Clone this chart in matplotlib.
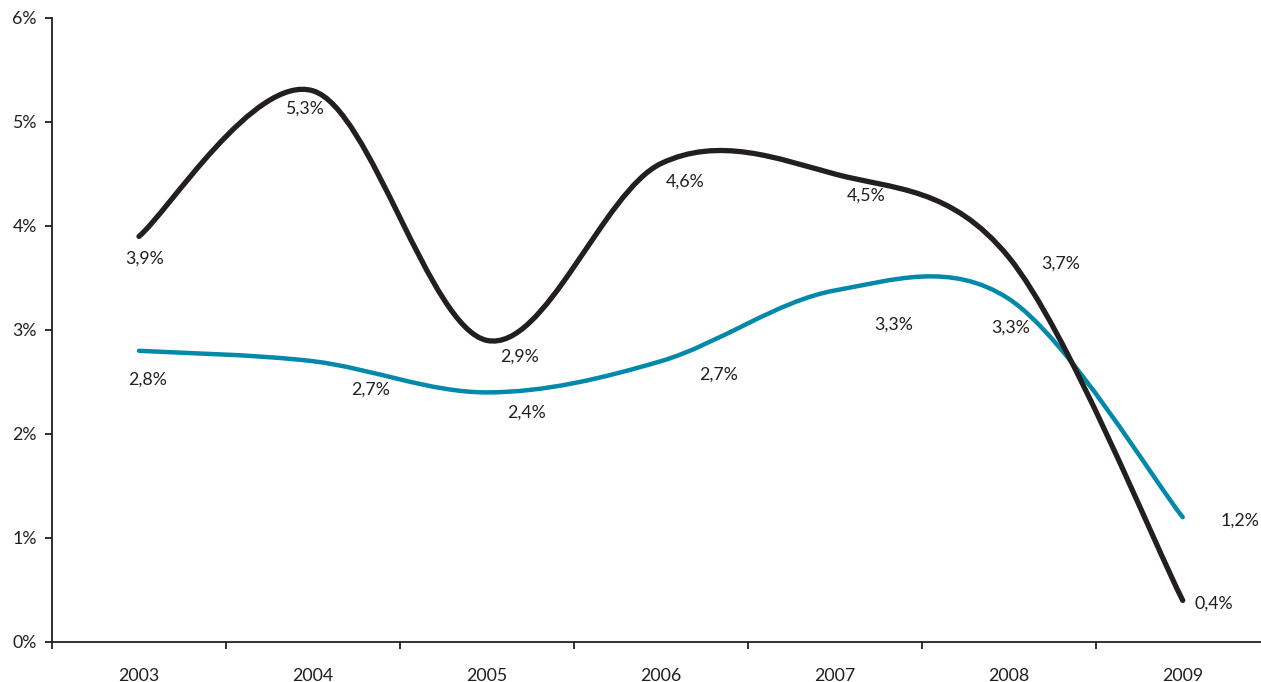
import numpy as np
import matplotlib.pyplot as plt
from matplotlib.path import Path
from matplotlib.patches import PathPatch

# data
years = ['2003', '2004', '2005', '2006', '2007', '2008', '2009']
black_vals = [3.9, 5.3, 2.9, 4.6, 4.5, 3.7, 0.4]
blue_vals = [2.8, 2.7, 2.4, 2.7, 3.38, 3.3, 1.2]
black_labels = ['3,9%', '5,3%', '2,9%', '4,6%', '4,5%', '3,7%', '0,4%']
blue_labels = ['2,8%', '2,7%', '2,4%', '2,7%', '3,3%', '3,3%', '1,2%']

# label offsets (x, y) relative to the point
black_off = [(0.03, -0.21), (-0.05, -0.17), (0.19, -0.16), (0.14, -0.17), (0.18, -0.21), (0.30, -0.06), (0.18, -0.03)]
blue_off = [(0.05, -0.28), (0.33, -0.27), (0.23, -0.19), (0.33, -0.13), (0.34, -0.33), (0.01, -0.28), (0.33, -0.03)]

BLACK = '#231f20'
BLUE = '#0089aa'
FONT = 'Lato'
FS = 12.8


def smooth_path(xs, ys):
    # excel style smoothed line (bezier through the points)
    p = np.column_stack([xs, ys]).astype(float)
    n = len(p)
    verts = [p[0]]
    codes = [Path.MOVETO]
    for i in range(n - 1):
        p0 = p[i - 1] if i > 0 else p[i]
        p1 = p[i]
        p2 = p[i + 1]
        p3 = p[i + 2] if i + 2 < n else p[i + 1]
        c1 = p1 + (p2 - p0) / 6
        c2 = p2 - (p3 - p1) / 6
        verts += [c1, c2, p2]
        codes += [Path.CURVE4] * 3
    return Path(verts, codes)


fig = plt.figure(figsize=(12.61, 6.82), dpi=100)
ax = fig.add_axes([52 / 1261, 40 / 682, 1 - 52 / 1261, 624 / 682])

x = np.arange(len(years))
for vals, col, lw in [(blue_vals, BLUE, 3.2), (black_vals, BLACK, 3.8)]:
    pp = PathPatch(smooth_path(x, vals), facecolor='none', edgecolor=col, lw=lw,
                   capstyle='round', joinstyle='round')
    ax.add_patch(pp)

for vals, labs, offs in [(black_vals, black_labels, black_off), (blue_vals, blue_labels, blue_off)]:
    for i in range(len(vals)):
        ax.text(x[i] + offs[i][0], vals[i] + offs[i][1], labs[i], ha='center', va='center',
                fontsize=FS, color=BLACK, family=FONT)

ax.set_xlim(-0.5, 6.45)
ax.set_ylim(0, 6)
ax.set_yticks(range(7))
ax.set_yticklabels([str(v) + '%' for v in range(7)], family=FONT, fontsize=FS, color=BLACK)
ax.set_xticks(x)
ax.set_xticklabels(years, family=FONT, fontsize=FS, color=BLACK)
ax.set_xticks(np.arange(-0.5, 6, 1), minor=True)
ax.tick_params(axis='x', which='major', length=0, pad=19)
ax.tick_params(axis='x', which='minor', length=5, width=1.3, color=BLACK, direction='out')
ax.tick_params(axis='y', length=5, width=1.3, color=BLACK, direction='out', pad=6)

ax.spines['top'].set_visible(False)
ax.spines['right'].set_visible(False)
for s in ['left', 'bottom']:
    ax.spines[s].set_color(BLACK)
    ax.spines[s].set_linewidth(1.3)

fig.savefig('out.png', dpi=100)
